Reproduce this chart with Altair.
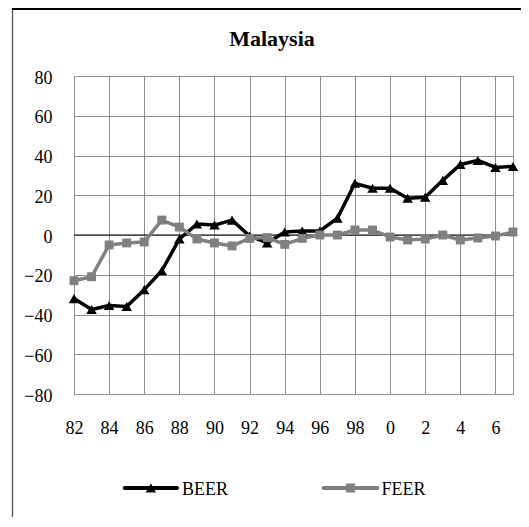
import altair as alt
import pandas as pd

# ---- data ----
years = ["82", "83", "84", "85", "86", "87", "88", "89", "90", "91", "92", "93", "94",
         "95", "96", "97", "98", "99", "0", "1", "2", "3", "4", "5", "6", "7"]
year_ticks = ["82", "84", "86", "88", "90", "92", "94", "96", "98", "0", "2", "4", "6"]
y_ticks = [-80, -60, -40, -20, 0, 20, 40, 60, 80]
beer = [-32, -37.5, -35.5, -36, -27.5, -18, -2, 5.5, 5, 7.5, -0.5, -4, 1.5,
        2, 2, 8.5, 26, 23.5, 23.5, 18.5, 19, 27.5, 35.5, 37.5, 34, 34.5]
feer = [-23, -21, -5, -4, -3.5, 7.5, 4, -2, -4, -5.5, -1.7, -1.3, -4.7,
        -1.7, 0, 0, 2.5, 2.5, -1, -2.5, -2, 0, -2.5, -1.5, -0.5, 1.5]
series = ["BEER", "FEER"]
colors = ["#000000", "#808080"]
shapes = ["triangle-up", "square"]
chart_title = "Malaysia"

FONT = "Liberation Serif"
GRID = "#8e8e8e"
W, H = 439, 318

df = pd.DataFrame({
    "year": years * 2,
    "value": beer + feer,
    "series": [series[0]] * len(years) + [series[1]] * len(years),
})

x_enc = alt.X("year:O", sort=years,
              scale=alt.Scale(type="point", domain=years, padding=0),
              axis=alt.Axis(values=year_ticks, title=None, labelAngle=0, grid=True,
                            gridColor=GRID, gridWidth=1, ticks=False, tickSize=0,
                            domain=False, labelPadding=25, labelFontSize=18,
                            labelFont=FONT, labelColor="black", labelBaseline="top",
                            labelOverlap=False))
y_axis = alt.Axis(values=y_ticks, title=None, grid=True, gridColor=GRID,
                  gridWidth=1, ticks=False, tickSize=0, domain=False,
                  labelPadding=22, labelFontSize=18, labelFont=FONT,
                  labelColor="black", labelBaseline="middle", labelOffset=2,
                  labelOverlap=False, labelFlush=False)
y_scale = alt.Scale(domain=[-80, 80], nice=False, zero=False)
y_enc = alt.Y("value:Q", scale=y_scale, axis=y_axis)
c_enc = alt.Color("series:N", scale=alt.Scale(domain=series, range=colors), legend=None)

base = alt.Chart(df)
one = alt.Data(values=[{}])

zero = alt.Chart(one).mark_rule(color="black", strokeWidth=1).encode(
    y=alt.YDatum(0, scale=y_scale, axis=y_axis))

layers = [zero]
for name, shp, size in zip(series, shapes, [110, 80]):
    sub = base.transform_filter(alt.datum.series == name)
    layers.append(sub.mark_line(strokeWidth=3.5, strokeJoin="round").encode(
        x=x_enc, y=y_enc, color=c_enc))
    layers.append(sub.mark_point(shape=shp, filled=True, opacity=1, size=size).encode(
        x=x_enc, y=y_enc, color=c_enc))

# title
layers.append(alt.Chart(one).mark_text(
    text=chart_title, font=FONT, fontSize=22, fontWeight="bold", color="black",
    align="center", baseline="alphabetic").encode(x=alt.value(198), y=alt.value(-30)))

# legend
leg_y = 412
leg_items = [(series[0], colors[0], shapes[0], 110, 50.7, 103, 108),
             (series[1], colors[1], shapes[1], 80, 249.5, 303.4, 307.5)]
for name, col, shp, size, xa, xb, xt in leg_items:
    layers.append(alt.Chart(one).mark_rule(color=col, strokeWidth=4, strokeCap="round").encode(
        x=alt.value(xa), x2=alt.value(xb), y=alt.value(leg_y)))
    layers.append(alt.Chart(one).mark_point(shape=shp, filled=True, opacity=1, size=size,
                                            color=col).encode(
        x=alt.value((xa + xb) / 2), y=alt.value(leg_y)))
    layers.append(alt.Chart(one).mark_text(
        text=name, font=FONT, fontSize=18, color="black", align="left",
        baseline="alphabetic").encode(x=alt.value(xt), y=alt.value(leg_y + 6.5)))

# outer frame
layers.append(alt.Chart(one).mark_rule(color="#555555", strokeWidth=1.3).encode(
    x=alt.value(-61.5), y=alt.value(-68), y2=alt.value(442)))
layers.append(alt.Chart(one).mark_rule(color="#000000", strokeWidth=2).encode(
    x=alt.value(-62), x2=alt.value(460), y=alt.value(-67)))
layers.append(alt.Chart(one).mark_rule(color="#d0d0d0", strokeWidth=1).encode(
    x=alt.value(-62), x2=alt.value(460), y=alt.value(441.5)))

chart = alt.layer(*layers).properties(
    width=W, height=H,
    padding={"left": 66, "top": 68, "right": 8, "bottom": 123},
    autosize=alt.AutoSizeParams(type="none"),
    background="white",
).configure_view(stroke=GRID, strokeWidth=1).configure_axis(
    labelFont=FONT, labelFontSize=18, labelColor="black")

chart.save("out.html", embed_options={"renderer": "svg", "actions": False})
